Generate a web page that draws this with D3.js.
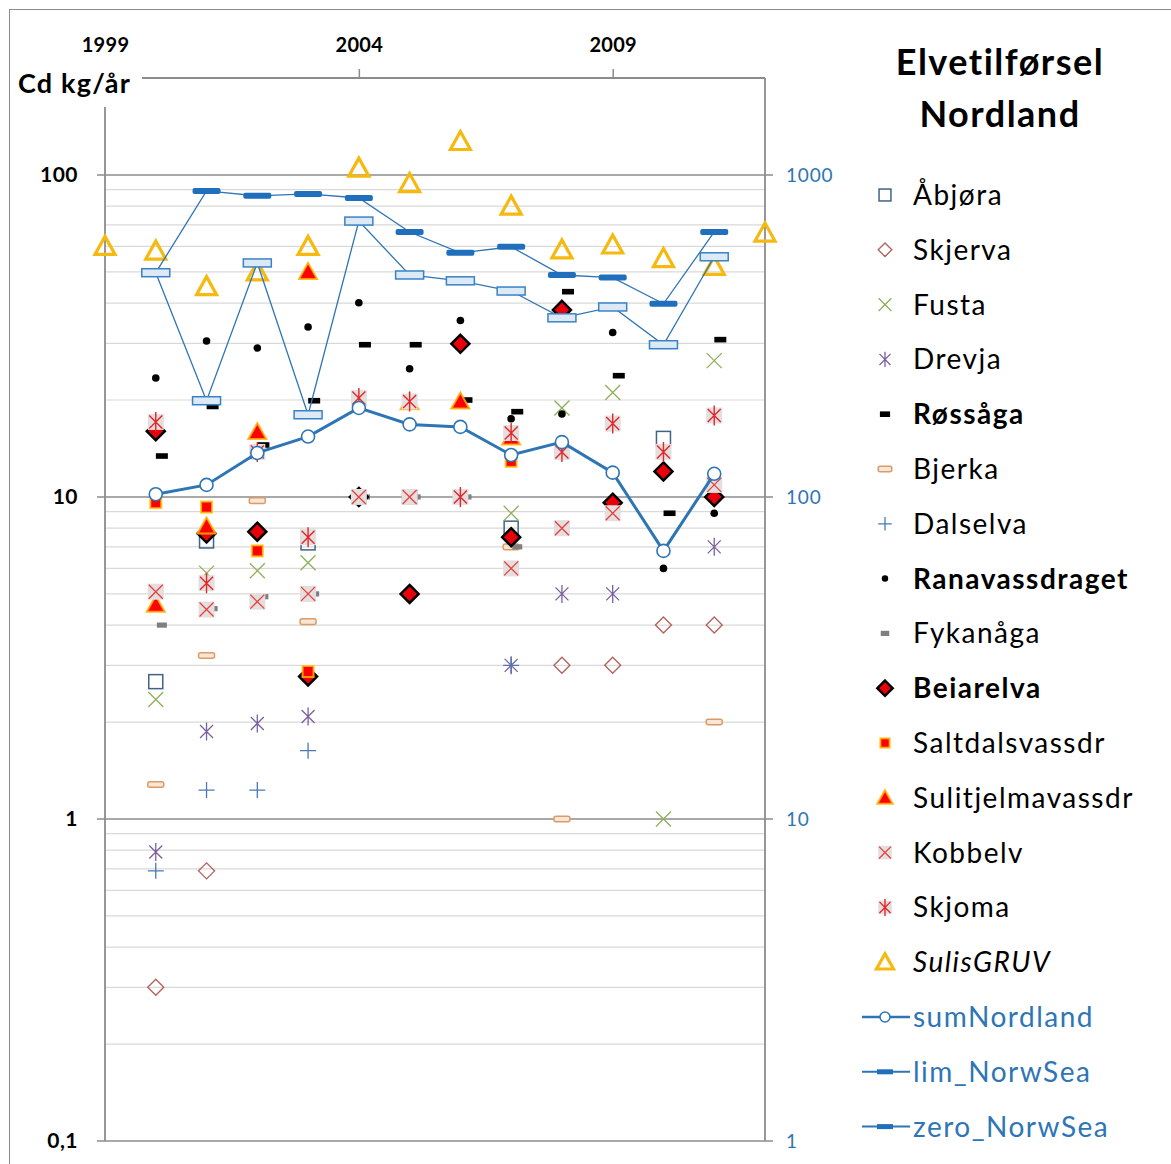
<!DOCTYPE html>
<html>
<head>
<meta charset="utf-8">
<script src="https://cdn.jsdelivr.net/npm/d3@7"></script>
<style>
  body { margin: 0; background: #fff; }
  svg { font-family: Lato, "Open Sans", sans-serif; }
</style>
</head>
<body>
<svg id="chart" width="1171" height="1164"></svg>
<script>
// years on the x axis
const years = [1999, 2000, 2001, 2002, 2003, 2004, 2005, 2006, 2007, 2008, 2009, 2010, 2011, 2012];
const yearTicks = [1999, 2004, 2009];
const leftTicks = [0.1, 1, 10, 100];
const rightTicks = [1, 10, 100, 1000];

// Cd kg/år per river (left axis)
const abjora     = [null, 2.67, 7.3, null, 7.2, 10, 10, null, 8.0, null, null, 15.2, null, null];
const skjerva    = [null, 0.3, 0.69, null, null, null, null, null, null, 3.0, 3.0, 4.0, 4.0, null];
const fusta      = [null, 2.35, 5.8, 5.9, 6.25, null, null, null, 8.9, 18.9, 21.1, 1.0, 26.5, null];
const drevja     = [null, 0.79, 1.87, 1.98, 2.08, null, null, null, 3.0, 5.0, 5.0, null, 7.0, null];
const rossaga    = [null, 13.4, 19.1, 14.5, 19.9, 29.7, 29.7, 20.0, 18.4, 43.4, 23.8, 8.9, 30.8, null];
const bjerka     = [null, 1.28, 3.22, 9.74, 4.1, null, null, null, 7.0, 1.0, null, null, 2.0, null];
const dalselva   = [null, 0.69, 1.23, 1.23, 1.63, null, null, null, 3.0, null, null, null, null, null];
const ranavass   = [null, 23.4, 30.5, 29.0, 33.7, 40.1, 25.0, 35.3, 17.5, 18.1, 32.4, 6.0, 8.9, null];
const fykanaga   = [null, 4.0, 4.5, 4.9, 5.0, 10, 10, 10, 7.0, null, null, null, null, null];
const beiarelva  = [null, 16.0, 7.7, 7.8, 2.77, 10, 5.0, 29.9, 7.5, 38.1, 9.6, 12.0, 10.0, null];
const saltdal    = [null, 9.6, 9.3, 6.8, 2.87, null, null, null, 12.9, null, null, null, null, null];
const sulitjelma = [null, 4.63, 8.1, 15.9, 50.0, null, 19.7, 19.8, 15.3, null, null, null, null, null];
const kobbelv    = [null, 5.08, 4.47, 4.73, 5.0, 10, 10, null, 6.0, 8.0, 8.9, null, 10.9, null];
const skjoma     = [null, 17.1, 5.4, 13.8, 7.5, 20.3, 19.8, 10.0, 15.8, 13.8, 16.9, 13.8, 17.9, null];
const sulisGRUV  = [60, 58, 45, 50, 60, 105, 94, 127, 80, 58.5, 60.6, 55, 52, 66];
const sumNordland = [null, 10.2, 10.9, 13.7, 15.4, 18.9, 16.8, 16.5, 13.5, 14.8, 11.9, 6.8, 11.8, null];
// right axis
const limNorwSea  = [null, 497, 892, 861, 873, 848, 665, 573, 598, 489, 480, 398, 665, null];
const zeroNorwSea = [null, 497, 199, 533, 180, 719, 489, 469, 436, 360, 389, 297, 557, null];

const BLUE = "#2e75b6";

const series = [
  { name: "Åbjøra", values: abjora, marker: "square" },
  { name: "Skjerva", values: skjerva, marker: "diamondHollow" },
  { name: "Fusta", values: fusta, marker: "xgreen" },
  { name: "Drevja", values: drevja, marker: "asterisk" },
  { name: "Røssåga", values: rossaga, marker: "dash", bold: true, shift: 0.12 },
  { name: "Bjerka", values: bjerka, marker: "bjerka" },
  { name: "Dalselva", values: dalselva, marker: "plus" },
  { name: "Ranavassdraget", values: ranavass, marker: "dot", bold: true },
  { name: "Fykanåga", values: fykanaga, marker: "grayDash", shift: 0.12 },
  { name: "Beiarelva", values: beiarelva, marker: "beiar", bold: true },
  { name: "Saltdalsvassdr", values: saltdal, marker: "salt" },
  { name: "Sulitjelmavassdr", values: sulitjelma, marker: "suli" },
  { name: "Kobbelv", values: kobbelv, marker: "kobbelv" },
  { name: "Skjoma", values: skjoma, marker: "skjoma" },
  { name: "SulisGRUV", values: sulisGRUV, marker: "gruv", italic: true },
  { name: "sumNordland", values: sumNordland, marker: "circle", line: 3, blue: true },
  { name: "lim_NorwSea", values: limNorwSea, marker: "limDash", line: 1.3, blue: true, right: true },
  { name: "zero_NorwSea", values: zeroNorwSea, marker: "zeroRect", line: 1.3, blue: true, right: true }
];

const svg = d3.select("#chart");
const plot = { left: 105, right: 765, top: 78, bottom: 1141 };

const x = d3.scaleLinear().domain([1999, 2012]).range([plot.left, plot.right]);
const y = d3.scaleLog().domain([0.1, 200]).range([plot.bottom, plot.top]);
const y2 = d3.scaleLog().domain([1, 2000]).range([plot.bottom, plot.top]);

// outer border
svg.append("rect")
  .attr("x", 9.5).attr("y", 9.5)
  .attr("width", 1200).attr("height", 1200)
  .attr("fill", "#fff").attr("stroke", "#8c8c8c");

// minor gridlines
const minor = [];
[0.1, 1, 10].forEach(dec => { for (let k = 2; k <= 9; k++) minor.push(dec * k); });
svg.append("g").selectAll("line")
  .data(minor)
  .join("line")
  .attr("x1", plot.left).attr("x2", plot.right)
  .attr("y1", d => y(d)).attr("y2", d => y(d))
  .attr("stroke", "#d9d9d9").attr("stroke-width", 1.2);

// major gridlines (extend as ticks on both sides)
svg.append("g").selectAll("line")
  .data(leftTicks)
  .join("line")
  .attr("x1", plot.left - 8).attr("x2", plot.right + 8)
  .attr("y1", d => y(d)).attr("y2", d => y(d))
  .attr("stroke", "#8c8c8c").attr("stroke-width", 1.5);

// axis lines
const frame = svg.append("g").attr("stroke", "#8c8c8c").attr("stroke-width", 1.8);
frame.append("line").attr("x1", plot.left).attr("x2", plot.left).attr("y1", plot.top).attr("y2", plot.bottom);
frame.append("line").attr("x1", plot.right).attr("x2", plot.right).attr("y1", plot.top).attr("y2", plot.bottom);
frame.append("line").attr("x1", plot.left).attr("x2", plot.right).attr("y1", plot.top).attr("y2", plot.top);

// left axis labels
const gl = svg.append("g")
  .attr("transform", `translate(${plot.left},0)`)
  .call(d3.axisLeft(y).tickValues(leftTicks).tickSize(0).tickPadding(27)
    .tickFormat(d => String(d).replace(".", ",")));
gl.select(".domain").remove();
gl.selectAll("text")
  .attr("font-family", "Lato, sans-serif")
  .attr("font-size", 21).attr("font-weight", "bold").attr("fill", "#000")
  .attr("letter-spacing", 0.5);

// right axis labels
const gr = svg.append("g")
  .attr("transform", `translate(${plot.right},0)`)
  .call(d3.axisRight(y2).tickValues(rightTicks).tickSize(0).tickPadding(21)
    .tickFormat(d3.format("d")));
gr.select(".domain").remove();
gr.selectAll("text")
  .attr("font-family", "Lato, sans-serif")
  .attr("font-size", 19).attr("fill", BLUE)
  .attr("letter-spacing", 0.8);

// top year axis
const gt = svg.append("g")
  .attr("transform", `translate(0,${plot.top})`)
  .call(d3.axisTop(x).tickValues(yearTicks).tickSize(9).tickPadding(17)
    .tickFormat(d3.format("d")));
gt.select(".domain").remove();
gt.selectAll("line").attr("stroke", "#8c8c8c").attr("stroke-width", 1.5);
gt.selectAll("text")
  .attr("font-family", "Lato, sans-serif")
  .attr("font-size", 20).attr("font-weight", "bold").attr("fill", "#000")
  .attr("letter-spacing", 0.3);

// marker drawing
function cross(g, s, color, w) {
  g.append("path").attr("d", `M${-s},${-s}L${s},${s}M${-s},${s}L${s},${-s}`)
    .attr("stroke", color).attr("stroke-width", w).attr("fill", "none");
}
function star(g, s, v, color, w) {
  g.append("path").attr("d", `M${-s},${-s}L${s},${s}M${-s},${s}L${s},${-s}M0,${-v}L0,${v}`)
    .attr("stroke", color).attr("stroke-width", w).attr("fill", "none");
}
function drawMarker(g, type, k) {
  k = k || 1;
  switch (type) {
    case "square":
      g.append("rect").attr("x", -7 * k).attr("y", -7 * k).attr("width", 14 * k).attr("height", 14 * k)
        .attr("fill", "none").attr("stroke", "#3f6485").attr("stroke-width", 1.5);
      break;
    case "diamondHollow":
      g.append("path").attr("d", `M0,${-8 * k}L${8 * k},0L0,${8 * k}L${-8 * k},0Z`)
        .attr("fill", "none").attr("stroke", "#b5655f").attr("stroke-width", 1.4);
      break;
    case "xgreen":
      cross(g, 7.5 * k, "#8fb05a", 1.3);
      break;
    case "asterisk":
      star(g, 6.5 * k, 9 * k, "#7a619e", 1.3);
      break;
    case "dash":
      g.append("rect").attr("x", -6 * k).attr("y", -2.8).attr("width", 12 * k).attr("height", 5.6)
        .attr("fill", "#000");
      break;
    case "bjerka":
      g.append("rect").attr("x", -8 * k).attr("y", -2.8).attr("width", 16 * k).attr("height", 5.6)
        .attr("rx", 2).attr("fill", "#fbe5d4").attr("stroke", "#d99c68").attr("stroke-width", 1.5);
      break;
    case "plus":
      g.append("path").attr("d", `M${-8 * k},0L${8 * k},0M0,${-8 * k}L0,${8 * k}`)
        .attr("stroke", "#4a79b4").attr("stroke-width", 1.3);
      break;
    case "dot":
      g.append("circle").attr("r", 3.8 * k).attr("fill", "#000");
      break;
    case "grayDash":
      g.append("rect").attr("x", -5 * k).attr("y", -2.6).attr("width", 10 * k).attr("height", 5.2)
        .attr("fill", "#7f7f7f");
      break;
    case "beiar":
      g.append("path").attr("d", `M0,${-9 * k}L${9 * k},0L0,${9 * k}L${-9 * k},0Z`)
        .attr("fill", "#e8000b").attr("stroke", "#000").attr("stroke-width", 2.5);
      break;
    case "salt":
      g.append("rect").attr("x", -5.5 * k).attr("y", -5.5 * k).attr("width", 11 * k).attr("height", 11 * k)
        .attr("fill", "#f00").attr("stroke", "#ffc000").attr("stroke-width", 2).attr("stroke-opacity", 0.8);
      break;
    case "suli":
      g.append("path").attr("d", `M0,${-9 * k}L${9 * k},${7 * k}L${-9 * k},${7 * k}Z`)
        .attr("fill", "#f00").attr("stroke", "#ffb000").attr("stroke-width", 2).attr("stroke-opacity", 0.85);
      break;
    case "kobbelv":
      g.append("rect").attr("x", -8 * k).attr("y", -8 * k).attr("width", 16 * k).attr("height", 16 * k)
        .attr("fill", "#e4dede");
      cross(g, 7 * k, "#e3413f", 1.3);
      break;
    case "skjoma":
      g.append("rect").attr("x", -8 * k).attr("y", -8 * k).attr("width", 16 * k).attr("height", 16 * k)
        .attr("fill", "#e4dede");
      star(g, 6.5 * k, 10 * k, "#e3262a", 1.4);
      break;
    case "gruv":
      g.append("path").attr("d", `M0,${-10 * k}L${10 * k},${8 * k}L${-10 * k},${8 * k}Z`)
        .attr("fill", "none").attr("stroke", "#f5b90f").attr("stroke-width", 3.2).attr("stroke-linejoin", "miter");
      break;
    case "circle":
      g.append("circle").attr("r", 6.5 * k).attr("fill", "#fff").attr("stroke", BLUE).attr("stroke-width", 1.6);
      break;
    case "limDash":
      g.append("rect").attr("x", -14 * k).attr("y", -3 * k).attr("width", 28 * k).attr("height", 6 * k)
        .attr("rx", 2).attr("fill", "#1f6fbd");
      break;
    case "zeroRect":
      g.append("rect").attr("x", -14 * k).attr("y", -4).attr("width", 28 * k).attr("height", 8)
        .attr("fill", "#dce9f6").attr("stroke", "#3b82c4").attr("stroke-width", 1.5);
      break;
  }
}

// series
series.forEach(s => {
  const ys = s.right ? y2 : y;
  const shift = s.shift || 0;
  const pts = years.map((yr, i) => ({ yr: yr + shift, v: s.values[i] })).filter(d => d.v != null);
  const g = svg.append("g");
  if (s.line) {
    g.append("path")
      .datum(pts)
      .attr("d", d3.line().x(d => x(d.yr)).y(d => ys(d.v)))
      .attr("fill", "none").attr("stroke", BLUE).attr("stroke-width", s.line);
  }
  g.selectAll("g.m")
    .data(pts)
    .join("g")
    .attr("class", "m")
    .attr("transform", d => `translate(${x(d.yr)},${ys(d.v)})`)
    .each(function () { drawMarker(d3.select(this), s.marker); });
});

// y-axis title with white box
svg.append("rect").attr("x", 12).attr("y", 60).attr("width", 130).attr("height", 47).attr("fill", "#fff");
svg.append("text")
  .attr("x", 18).attr("y", 93)
  .attr("font-size", 27).attr("font-weight", "bold")
  .attr("letter-spacing", 1.2)
  .text("Cd kg/år");

// chart title
const title = svg.append("text")
  .attr("text-anchor", "middle")
  .attr("font-size", 36).attr("font-weight", "bold")
  .attr("letter-spacing", 1.5);
title.append("tspan").attr("x", 1000).attr("y", 75).text("Elvetilførsel");
title.append("tspan").attr("x", 1000).attr("y", 127).text("Nordland");

// legend
const legend = svg.append("g");
series.forEach((s, i) => {
  const ly = 195 + i * 54.8;
  const row = legend.append("g").attr("transform", `translate(885,${ly})`);
  if (s.line) {
    row.append("line").attr("x1", -23).attr("x2", 25).attr("stroke", BLUE).attr("stroke-width", s.line === 3 ? 2.5 : 2);
  }
  const mk = row.append("g");
  if (s.marker === "circle") {
    mk.append("circle").attr("r", 5).attr("fill", "#fff").attr("stroke", BLUE).attr("stroke-width", 1.5);
  } else if (s.marker === "limDash" || s.marker === "zeroRect") {
    mk.append("rect").attr("x", -8).attr("y", -2.5).attr("width", 16).attr("height", 5).attr("fill", "#1f6fbd");
  } else {
    drawMarker(mk, s.marker, 0.85);
  }
  row.append("text")
    .attr("x", 28).attr("dy", "0.36em")
    .attr("font-size", 28)
    .attr("letter-spacing", 1.5)
    .attr("font-weight", s.bold ? "bold" : "normal")
    .attr("font-style", s.italic ? "italic" : "normal")
    .attr("fill", s.blue ? BLUE : "#000")
    .text(s.name);
});
</script>
</body>
</html>
